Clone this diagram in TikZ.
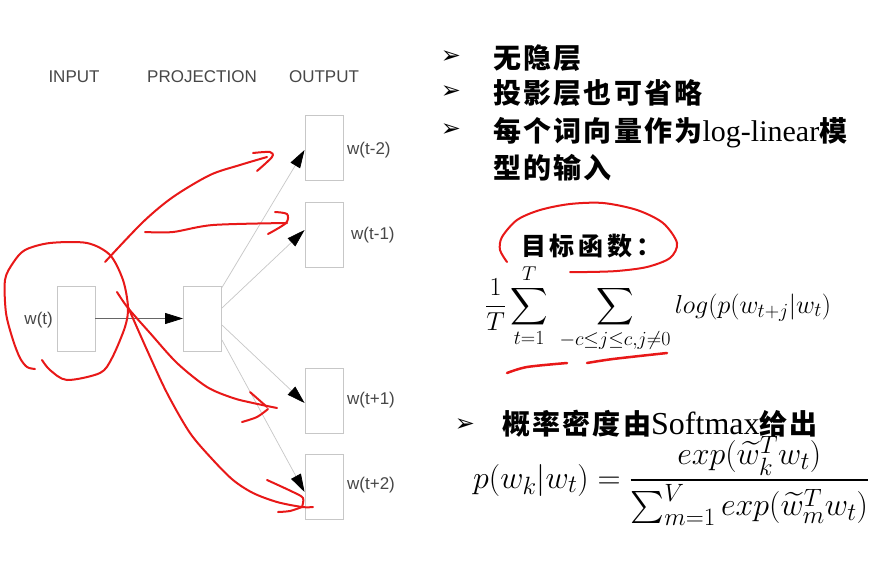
\RequirePackage{fix-cm}
\documentclass[tikz,border=0pt]{standalone}
\usepackage{amsmath}
\usepackage{amssymb}
\usepackage[no-math]{fontspec}
\setmainfont{Liberation Serif}
\newfontfamily\labelfont{Liberation Sans}
\newfontfamily\cjk[LetterSpace=8]{Noto Sans CJK SC}
\newfontfamily\cjkwide[LetterSpace=15]{Noto Sans CJK SC}
\newfontfamily\bulletfont{DejaVu Sans}
\usetikzlibrary{arrows.meta}
\definecolor{penred}{RGB}{232,24,24}
\DeclareMathSizes{26}{26}{20}{16}
\DeclareMathSizes{32}{32}{25}{20}

\begin{document}
\begin{tikzpicture}[x=1pt,y=-1pt,
    wordbox/.style={draw=black!22, line width=0.9pt, fill=white, minimum width=38pt, minimum height=65pt, inner sep=0pt},
    wordlabel/.style={font=\labelfont\fontsize{17}{20}\selectfont, text=black!72, inner sep=0pt},
    layername/.style={font=\labelfont\fontsize{17}{20}\selectfont, text=black!72, inner sep=0pt, anchor=base},
    inarrow/.style={draw=black!60, line width=0.7pt, -{Triangle[length=18pt,width=11pt,color=black]}},
    outarrow/.style={draw=black!22, line width=0.7pt, -{Triangle[length=18pt,width=11pt,color=black]}},
    bulletmark/.style={font=\bulletfont\fontsize{24}{28}\selectfont, inner sep=0pt},
    cjkline/.style={font=\cjk\bfseries\fontsize{28}{32}\selectfont, inner sep=0pt, anchor=base west},
    ink/.style={draw=penred, line width=2pt, line cap=round, line join=round}
]
    \fill[white] (0,0) rectangle (874,562);
    \useasboundingbox (0,0) rectangle (874,562);

    % layer names
    \node[layername] (inname) at (74,82) {INPUT};
    \node[layername] (projname) at (202,82) {PROJECTION};
    \node[layername] (outname) at (324,82) {OUTPUT};

    % word boxes
    \node[wordbox] (in) at (76,318.5) {};
    \node[wordbox] (proj) at (202.5,318.5) {};
    \node[wordbox] (o1) at (324,147.5) {};
    \node[wordbox] (o2) at (324,234.5) {};
    \node[wordbox] (o3) at (324,400.5) {};
    \node[wordbox] (o4) at (324,486.5) {};

    \node[wordlabel, anchor=east] (lin) at (53,320) {w(t)};
    \node[wordlabel, anchor=west] (l1) at (347,150) {w(t-2)};
    \node[wordlabel, anchor=west] (l2) at (351,235) {w(t-1)};
    \node[wordlabel, anchor=west] (l3) at (347,400) {w(t+1)};
    \node[wordlabel, anchor=west] (l4) at (347,485) {w(t+2)};

    \draw[inarrow] (in.east) -- (proj.west);
    \draw[outarrow] ([yshift=-2pt]proj.north east) -- ([yshift=-2.5pt]o1.west);
    \draw[outarrow] ([yshift=10.5pt]proj.east) -- ([yshift=4.5pt]o2.west);
    \draw[outarrow] ([yshift=-6.5pt]proj.east) -- ([yshift=-2.5pt]o3.west);
    \draw[outarrow] ([yshift=-21.5pt]proj.east) -- ([yshift=-5.5pt]o4.west);

    % bullet points
    \node[bulletmark] (b1) at (451,57) {➢};
    \node[bulletmark] (b2) at (451,92) {➢};
    \node[bulletmark] (b3) at (451,130) {➢};
    \node[bulletmark] (b4) at (465,425) {➢};
    \node[cjkline] (t1) at (493,68) {无隐层};
    \node[cjkline] (t2) at (493,103) {投影层也可省略};
    \node[cjkline] (t3) at (493,141) {每个词向量作为{\rmfamily\mdseries\fontsize{30}{32}\selectfont log-linear}模};
    \node[cjkline] (t4) at (493,178) {型的输入};
    \node[cjkline] (t5) at (502,434) {概率密度由{\rmfamily\mdseries\fontsize{32}{34}\selectfont Softmax}给出};
    \node[cjkline, font=\cjkwide\bfseries\fontsize{25}{30}\selectfont] (goal) at (521,255) {目标函数：};

    % formulas
    \node[anchor=base west, inner sep=0pt, font=\fontsize{26}{30}\selectfont] (obj) at (485,313)
        {$\displaystyle \frac{1}{T}\sum_{t=1}^{T}\;\sum_{-c\le j\le c,j\ne 0} log(p(w_{t+j}|w_t)$};
    \node[anchor=base west, inner sep=0pt, font=\fontsize{32}{38}\selectfont] (soft) at (473,488)
        {$\displaystyle p(w_k|w_t)=\frac{exp(\widetilde{w}_k^T w_t)}{\sum_{m=1}^{V} exp(\widetilde{w}_m^T w_t)}$};

    % red pen marks
    \draw[ink] plot[smooth] coordinates {(35,369) (27,367) (20,358) (13,340) (6,313) (5,280) (13,263) (25,250) (50,243) (87,243) (110,255) (123,280) (128,307) (125,327) (112,358) (100,373) (67,380) (50,370) (42,360)};
    \draw[ink] plot[smooth] coordinates {(105,262) (143,222) (173,197) (210,175) (240,165) (267,157)};
    \draw[ink] plot[smooth] coordinates {(253,153) (270,152) (272,157) (257,171)};
    \draw[ink] plot[smooth] coordinates {(145,232) (173,232) (213,225) (287,223)};
    \draw[ink] plot[smooth] coordinates {(275,212) (287,214) (286,223) (268,234)};
    \draw[ink] plot[smooth] coordinates {(117,292) (128,308) (150,333) (177,363) (207,387) (233,398) (253,403) (277,408)};
    \draw[ink] (250,392) -- (267,407);
    \draw[ink] plot[smooth] coordinates {(242,422) (257,417) (268,409)};
    \draw[ink] plot[smooth] coordinates {(128,307) (147,350) (167,393) (190,433) (213,460) (233,480) (253,493) (277,502) (302,507) (313,507)};
    \draw[ink] plot[smooth] coordinates {(267,480) (293,492) (303,498) (302,507)};
    \draw[ink] plot[smooth] coordinates {(278,512) (290,511) (302,507)};
    \draw[ink] plot[smooth] coordinates {(507,262) (500,250) (502,237) (517,220) (540,210) (570,204) (603,203) (637,210) (663,223) (677,243) (670,258) (647,267) (617,271) (587,272) (570,272)};
    \draw[ink, line width=2.5pt] plot[smooth] coordinates {(507,373) (527,367) (567,363)};
    \draw[ink, line width=2.5pt] plot[smooth] coordinates {(587,363) (613,359) (667,353)};
\end{tikzpicture}
\end{document}
